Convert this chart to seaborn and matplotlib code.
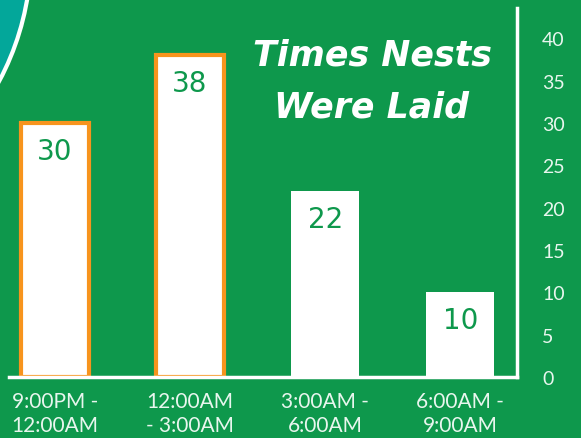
import matplotlib
matplotlib.use("Agg")
import matplotlib.pyplot as plt
from matplotlib.patches import Circle
import seaborn as sns

# data
time_slots = ["9:00PM -\n12:00AM", "12:00AM\n- 3:00AM", "3:00AM -\n6:00AM", "6:00AM -\n9:00AM"]
nests = [30, 38, 22, 10]
y_ticks = [0, 5, 10, 15, 20, 25, 30, 35, 40]

green = "#0e984c"
teal = "#03a79a"
orange = "#f7941d"
soft_white = "#e8f6ee"
edge_colors = [orange, orange, "none", "none"]

sns.set_style("white")
plt.rcParams["font.family"] = ["Lato", "DejaVu Sans"]

W, H = 581, 439
fig = plt.figure(figsize=(W / 100, H / 100), dpi=100, facecolor=green)

# background decoration (teal circle in the corner)
bg = fig.add_axes([0, 0, 1, 1], zorder=0)
bg.set_xlim(0, W)
bg.set_ylim(H, 0)
bg.axis("off")
bg.add_patch(Circle((-239, -45), 270, facecolor=teal, edgecolor="white", linewidth=3))

ax = fig.add_axes([9 / W, (H - 378) / H, (517 - 9) / W, (378 - 9) / H], zorder=1)
ax.set_facecolor("none")

sns.barplot(x=time_slots, y=nests, color="white", width=0.5, saturation=1, ax=ax)
for bar, ec in zip(ax.patches, edge_colors):
    bar.set_edgecolor(ec)
    bar.set_linewidth(3)

for i, v in enumerate(nests):
    ax.text(i, v - 3.3, str(v), ha="center", va="center", color=green,
            fontsize=20, family="DejaVu Sans")

ax.set_xlim(-0.34, 3.42)
ax.set_ylim(0, 43.6)
ax.set_yticks(y_ticks)
ax.yaxis.tick_right()
ax.tick_params(axis="y", length=0, pad=18, labelcolor=soft_white, labelsize=14)
ax.tick_params(axis="x", length=0, pad=10, labelcolor=soft_white, labelsize=15)
for lbl in ax.get_xticklabels():
    lbl.set_linespacing(1.25)
ax.set_xlabel("")
ax.set_ylabel("")

for side in ["top", "left"]:
    ax.spines[side].set_visible(False)
for side in ["right", "bottom"]:
    ax.spines[side].set_color("white")
    ax.spines[side].set_linewidth(2.5)

fig.text(372 / W, 1 - 55 / H, "Times Nests", ha="center", va="center",
         color="white", fontsize=25, fontweight="bold", style="italic", family="DejaVu Sans")
fig.text(372 / W, 1 - 108 / H, "Were Laid", ha="center", va="center",
         color="white", fontsize=25, fontweight="bold", style="italic", family="DejaVu Sans")

fig.savefig("out.png", dpi=100, facecolor=green)
